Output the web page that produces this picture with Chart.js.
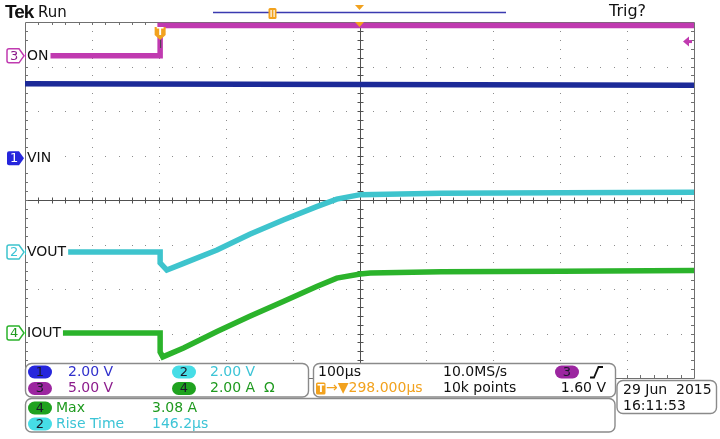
<!DOCTYPE html>
<html>
<head>
<meta charset="utf-8">
<script src="https://cdn.jsdelivr.net/npm/chart.js@4.4.0/dist/chart.umd.min.js"></script>
<style>
  html, body { margin: 0; padding: 0; background: #fff; }
</style>
</head>
<body>
<canvas id="scope" width="720" height="439"></canvas>
<script>
// Captura do osciloscópio: tempo em µs (trigger em 0), valores em V / A
const channelNames = ['VIN', 'VOUT', 'ON', 'IOUT'];
const unitsPerDiv = [2.0, 2.0, 5.0, 2.0];
const offsetDiv = [0.94, -1.17, 3.24, -2.99];
const trigLevel = 1.60; // canal 3

const vinTime = [-202, 300, 798];
const vinVolts = [3.35, 3.31, 3.28];

const voutTime = [-202, 0, 0, 10, 35, 85, 134, 184, 234, 264, 299, 420, 600, 798];
const voutVolts = [0.0, 0.0, -0.49, -0.81, -0.51, 0.09, 0.80, 1.44, 2.04, 2.38, 2.58, 2.64, 2.67, 2.69];

const onTime = [-202, 0, 0, 798];
const onVolts = [0.0, 0.0, 3.4, 3.4];

const ioutTime = [-202, 0, 0, 4, 35, 85, 134, 184, 234, 264, 299, 314, 420, 600, 798];
const ioutAmps = [0.0, 0.0, -0.85, -1.07, -0.67, 0.07, 0.75, 1.42, 2.09, 2.47, 2.65, 2.70, 2.75, 2.78, 2.81];

const timeMin = -202;
const timePerDiv = 100;

// cores de cada canal
const traceColor = ['#1c2a98', '#3ec4cd', '#c03ab0', '#2bb32b'];
const traceDark  = ['#0b0b55', '#1f7f88', '#7c1872', '#126c12'];
const textColor  = ['#3030cc', '#3cc4d6', '#8c1c8c', '#1f9a1f'];
const pillColor  = ['#2626dc', '#46dde6', '#9c26a0', '#1fa21f'];

function toDiv(times, values, ch) {
    return times.map((t, i) => ({ x: t, y: values[i] / unitsPerDiv[ch] + offsetDiv[ch] }));
}

const series = [
    { ch: 2, pts: toDiv(onTime, onVolts, 2) },
    { ch: 0, pts: toDiv(vinTime, vinVolts, 0) },
    { ch: 1, pts: toDiv(voutTime, voutVolts, 1) },
    { ch: 3, pts: toDiv(ioutTime, ioutAmps, 3) }
];

const datasets = [];
series.forEach(s => {
    datasets.push({ data: s.pts, borderColor: traceColor[s.ch], borderWidth: 5.5, pointRadius: 0, tension: 0 });
    datasets.push({ data: s.pts, borderColor: traceDark[s.ch] + 'aa', borderWidth: 1.5, pointRadius: 0, tension: 0 });
});

function rrect(ctx, x, y, w, h, r) {
    ctx.beginPath();
    ctx.moveTo(x + r, y);
    ctx.lineTo(x + w - r, y);
    ctx.arcTo(x + w, y, x + w, y + r, r);
    ctx.lineTo(x + w, y + h - r);
    ctx.arcTo(x + w, y + h, x + w - r, y + h, r);
    ctx.lineTo(x + r, y + h);
    ctx.arcTo(x, y + h, x, y + h - r, r);
    ctx.lineTo(x, y + r);
    ctx.arcTo(x, y, x + r, y, r);
    ctx.closePath();
}

function pill(ctx, x, cy, ch, label) {
    ctx.fillStyle = pillColor[ch];
    rrect(ctx, x, cy - 6.5, 24, 13, 6.5);
    ctx.fill();
    ctx.fillStyle = '#1a1a2a';
    ctx.font = '13px "DejaVu Sans"';
    ctx.textAlign = 'center';
    ctx.fillText(label, x + 12, cy + 0.5);
    ctx.textAlign = 'left';
}

const graticule = {
    id: 'graticule',
    beforeDatasetsDraw(chart) {
        const { ctx, chartArea: a, scales: { x, y } } = chart;
        const xs = [], ys = [];
        for (let k = 0; k <= 10; k++) xs.push(x.getPixelForValue(timeMin + k * timePerDiv));
        for (let k = -4; k <= 4; k++) ys.push(y.getPixelForValue(k));
        const w = a.right - a.left, h = a.bottom - a.top;
        ctx.save();
        ctx.fillStyle = '#8c8c8c';
        for (let i = 1; i < 10; i++) {
            if (i === 5) continue;
            for (let j = 0; j <= 40; j++) ctx.fillRect(Math.round(xs[i]), Math.round(a.top + j * h / 40), 1, 1);
        }
        for (let i = 1; i < 8; i++) {
            if (i === 4) continue;
            for (let j = 0; j <= 50; j++) ctx.fillRect(Math.round(a.left + j * w / 50), Math.round(ys[i]), 1, 1);
        }
        // eixos centrais com marcas
        const cx = Math.round(xs[5]) + 0.5, cy = Math.round(ys[4]) + 0.5;
        ctx.strokeStyle = '#505050';
        ctx.lineWidth = 1;
        ctx.beginPath();
        ctx.moveTo(a.left, cy); ctx.lineTo(a.right, cy);
        ctx.moveTo(cx, a.top); ctx.lineTo(cx, a.bottom);
        for (let j = 1; j < 50; j++) {
            const px = Math.round(a.left + j * w / 50) + 0.5;
            ctx.moveTo(px, cy - 3); ctx.lineTo(px, cy + 3);
        }
        for (let j = 1; j < 40; j++) {
            const py = Math.round(a.top + j * h / 40) + 0.5;
            ctx.moveTo(cx - 3, py); ctx.lineTo(cx + 3, py);
        }
        ctx.stroke();
        // moldura com marcas
        ctx.strokeStyle = '#707070';
        ctx.beginPath();
        ctx.rect(Math.round(a.left) + 0.5, Math.round(a.top) + 0.5, Math.round(w), Math.round(h));
        for (let j = 1; j < 50; j++) {
            const px = Math.round(a.left + j * w / 50) + 0.5;
            ctx.moveTo(px, a.top); ctx.lineTo(px, a.top + 3);
            ctx.moveTo(px, a.bottom); ctx.lineTo(px, a.bottom - 3);
        }
        for (let j = 1; j < 40; j++) {
            const py = Math.round(a.top + j * h / 40) + 0.5;
            ctx.moveTo(a.left, py); ctx.lineTo(a.left + 3, py);
            ctx.moveTo(a.right, py); ctx.lineTo(a.right - 3, py);
        }
        ctx.stroke();
        ctx.restore();
    },
    afterDatasetsDraw(chart) {
        const { ctx, chartArea: a, scales: { x, y } } = chart;
        ctx.save();
        ctx.textBaseline = 'middle';
        // rótulos dos canais
        [2, 0, 1, 3].forEach(ch => {
            const py = y.getPixelForValue(offsetDiv[ch]);
            ctx.font = '14px "DejaVu Sans"';
            const tw = ctx.measureText(channelNames[ch]).width;
            ctx.fillStyle = '#fff';
            ctx.fillRect(a.left + 1, py - 8, 27 - a.left + tw + 1, 16);
            ctx.beginPath();
            ctx.moveTo(9, py - 7); ctx.lineTo(19, py - 7); ctx.lineTo(24, py);
            ctx.lineTo(19, py + 7); ctx.lineTo(9, py + 7);
            ctx.arcTo(7, py + 7, 7, py + 5, 2); ctx.lineTo(7, py - 5);
            ctx.arcTo(7, py - 7, 9, py - 7, 2); ctx.closePath();
            if (ch === 0) {
                ctx.fillStyle = pillColor[0];
                ctx.fill();
                ctx.fillStyle = '#fff';
            } else {
                ctx.fillStyle = '#fff';
                ctx.fill();
                ctx.strokeStyle = traceColor[ch];
                ctx.lineWidth = 1.5;
                ctx.stroke();
                ctx.fillStyle = textColor[ch];
            }
            ctx.font = '13px "DejaVu Sans"';
            ctx.fillText(String(ch + 1), 10, py + 0.5);
            ctx.fillStyle = '#111';
            ctx.font = '14px "DejaVu Sans"';
            ctx.fillText(channelNames[ch], 27, py + 0.5);
        });
        // marcador do trigger
        const tx = x.getPixelForValue(0);
        ctx.strokeStyle = '#444';
        ctx.lineWidth = 1;
        ctx.beginPath(); ctx.moveTo(tx + 0.5, 38); ctx.lineTo(tx + 0.5, 48); ctx.stroke();
        ctx.fillStyle = '#f2a21e';
        ctx.beginPath();
        ctx.moveTo(tx - 5.5, 27); ctx.lineTo(tx + 5.5, 27); ctx.lineTo(tx + 5.5, 35);
        ctx.lineTo(tx, 40); ctx.lineTo(tx - 5.5, 35); ctx.closePath(); ctx.fill();
        ctx.fillStyle = '#fff';
        ctx.font = 'bold 10px "DejaVu Sans"';
        ctx.textAlign = 'center';
        ctx.fillText('T', tx, 32);
        ctx.textAlign = 'left';
        // nível do trigger
        const ly = y.getPixelForValue(trigLevel / unitsPerDiv[2] + offsetDiv[2]);
        ctx.fillStyle = traceColor[2];
        ctx.beginPath();
        ctx.moveTo(683, ly); ctx.lineTo(689, ly - 5); ctx.lineTo(689, ly + 5); ctx.closePath(); ctx.fill();
        ctx.fillRect(688, ly - 1.5, 4, 3);
        // posição horizontal
        const mx = x.getPixelForValue(timeMin + 5 * timePerDiv);
        ctx.fillStyle = '#f2a21e';
        ctx.beginPath();
        ctx.moveTo(mx - 4.5, 22); ctx.lineTo(mx + 4.5, 22); ctx.lineTo(mx, 27); ctx.closePath(); ctx.fill();
        ctx.restore();
    },
    afterDraw(chart) {
        const { ctx } = chart;
        ctx.save();
        ctx.textBaseline = 'middle';
        // cabeçalho
        ctx.fillStyle = '#111';
        ctx.font = 'bold 19px "Liberation Sans"';
        ctx.letterSpacing = '-1px';
        ctx.fillText('Tek', 5, 13);
        ctx.letterSpacing = '0px';
        ctx.font = '15px "DejaVu Sans"';
        ctx.fillText('Run', 38, 13);
        ctx.font = '16px "DejaVu Sans"';
        ctx.fillText('Trig?', 609, 12);
        ctx.strokeStyle = '#3a3ab0';
        ctx.lineWidth = 1.3;
        ctx.beginPath(); ctx.moveTo(213, 12.5); ctx.lineTo(506, 12.5); ctx.stroke();
        ctx.fillStyle = '#f2a21e';
        rrect(ctx, 268.5, 8, 8, 11, 1.5); ctx.fill();
        ctx.fillStyle = '#fff';
        ctx.fillRect(270.5, 10, 1.2, 7); ctx.fillRect(273.5, 10, 1.2, 7);
        ctx.fillStyle = '#f2a21e';
        ctx.beginPath(); ctx.moveTo(355, 5); ctx.lineTo(364, 5); ctx.lineTo(359.5, 10); ctx.closePath(); ctx.fill();

        // caixas de leitura
        ctx.strokeStyle = '#8a8a8a';
        ctx.lineWidth = 1.4;
        [[25.5, 363.5, 283, 33.5], [313.5, 363.5, 302, 33.5], [25.5, 398.5, 589.5, 33.5], [617, 380.5, 99.5, 33]].forEach(b => {
            ctx.fillStyle = '#fff';
            rrect(ctx, b[0], b[1], b[2], b[3], 6);
            ctx.fill();
            ctx.stroke();
        });
        pill(ctx, 28, 372, 0, '1');
        ctx.font = '14px "DejaVu Sans"';
        ctx.fillStyle = textColor[0]; ctx.fillText('2.00 V', 68, 372);
        pill(ctx, 172, 372, 1, '2');
        ctx.font = '14px "DejaVu Sans"';
        ctx.fillStyle = textColor[1]; ctx.fillText('2.00 V', 210, 372);
        pill(ctx, 28, 388.5, 2, '3');
        ctx.font = '14px "DejaVu Sans"';
        ctx.fillStyle = textColor[2]; ctx.fillText('5.00 V', 68, 388.5);
        pill(ctx, 172, 388.5, 3, '4');
        ctx.font = '14px "DejaVu Sans"';
        ctx.fillStyle = textColor[3]; ctx.fillText('2.00 A  Ω', 210, 388.5);

        ctx.fillStyle = '#111';
        ctx.fillText('100µs', 318, 372);
        ctx.fillText('10.0MS/s', 443, 372);
        ctx.fillText('10k points', 443, 388.5);
        ctx.textAlign = 'right';
        ctx.fillText('1.60 V', 606, 388.5);
        ctx.textAlign = 'left';
        pill(ctx, 555, 372, 2, '3');
        ctx.strokeStyle = '#111';
        ctx.lineWidth = 1.8;
        ctx.beginPath();
        ctx.moveTo(590, 377.5); ctx.lineTo(594, 377.5); ctx.lineTo(598.5, 367); ctx.lineTo(603, 367);
        ctx.stroke();
        ctx.fillStyle = '#f2a21e';
        rrect(ctx, 316, 382.5, 9.5, 12, 1.5); ctx.fill();
        ctx.fillStyle = '#fff';
        ctx.font = 'bold 10px "DejaVu Sans"';
        ctx.fillText('T', 317.5, 389);
        ctx.font = '14px "DejaVu Sans"';
        ctx.fillStyle = '#f2a21e';
        ctx.fillText('→▼298.000µs', 326, 388.5);

        ctx.fillStyle = '#111';
        ctx.fillText('29 Jun  2015', 623, 390);
        ctx.fillText('16:11:53', 623, 406);

        pill(ctx, 28, 408, 3, '4');
        ctx.font = '14px "DejaVu Sans"';
        ctx.fillStyle = textColor[3];
        ctx.fillText('Max', 56, 408);
        ctx.fillText('3.08 A', 152, 408);
        pill(ctx, 28, 424, 1, '2');
        ctx.font = '14px "DejaVu Sans"';
        ctx.fillStyle = textColor[1];
        ctx.fillText('Rise Time', 56, 424);
        ctx.fillText('146.2µs', 152, 424);
        ctx.restore();
    }
};

new Chart(document.getElementById('scope'), {
    type: 'line',
    data: { datasets: datasets },
    options: {
        responsive: false,
        animation: false,
        layout: { padding: { left: 25, right: 26, top: 22, bottom: 61 } },
        scales: {
            x: { type: 'linear', min: timeMin, max: timeMin + 10 * timePerDiv, display: false },
            y: { min: -4, max: 4, display: false }
        },
        plugins: {
            legend: { display: false },
            tooltip: { enabled: false }
        }
    },
    plugins: [graticule]
});
</script>
</body>
</html>
